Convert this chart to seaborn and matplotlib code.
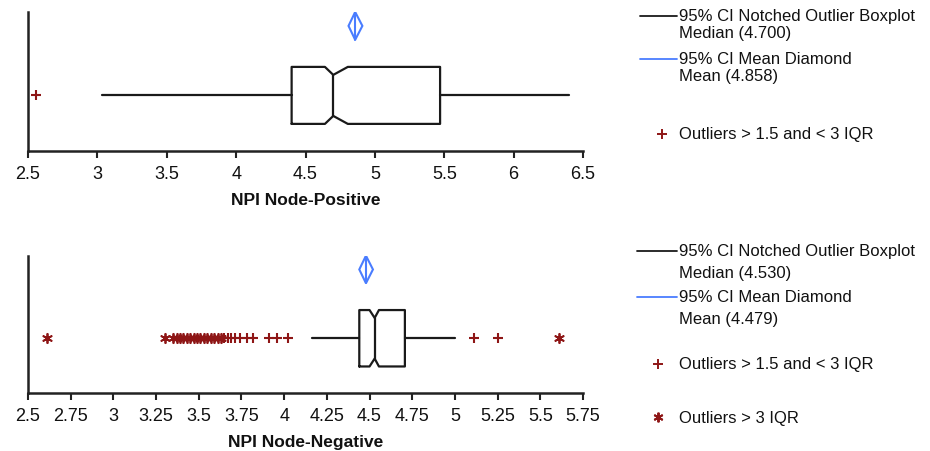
import matplotlib
matplotlib.use("Agg")
import matplotlib.pyplot as plt
import seaborn as sns
from matplotlib.lines import Line2D

# 两组 NPI 的箱线图统计量
panels = ['NPI Node-Positive', 'NPI Node-Negative']
whisker_lo = [3.03, 4.165]
q1 = [4.40, 4.44]
median = [4.700, 4.530]
notch_lo = [4.64, 4.50]
notch_hi = [4.805, 4.555]
q3 = [5.47, 4.707]
whisker_hi = [6.40, 5.00]

# 均值及其95%置信区间（菱形）
mean = [4.858, 4.479]
mean_ci_lo = [4.81, 4.44]
mean_ci_hi = [4.91, 4.52]

# 离群点：mild = 1.5~3 IQR, extreme = >3 IQR
mild_outliers = [
    [2.56],
    [3.65, 3.67, 3.69, 3.71, 3.74, 3.78, 3.82, 3.91, 3.96, 4.02, 5.11, 5.25],
]
extreme_outliers = [
    [],
    [2.61, 3.30, 3.35, 3.37, 3.39, 3.41, 3.43, 3.45, 3.47, 3.49, 3.51,
     3.53, 3.55, 3.57, 3.59, 3.61, 3.63, 5.61],
]

# 刻度
xticks = [
    [2.5, 3, 3.5, 4, 4.5, 5, 5.5, 6, 6.5],
    [2.5, 2.75, 3, 3.25, 3.5, 3.75, 4, 4.25, 4.5, 4.75, 5, 5.25, 5.5, 5.75],
]
xtick_labels = [
    ['2.5', '3', '3.5', '4', '4.5', '5', '5.5', '6', '6.5'],
    ['2.5', '2.75', '3', '3.25', '3.5', '3.75', '4', '4.25', '4.5', '4.75',
     '5', '5.25', '5.5', '5.75'],
]

sns.set_theme(style='ticks')
plt.rcParams['font.family'] = ['Liberation Sans', 'DejaVu Sans']

BOX_COLOR = '#1a1a1a'
BLUE = '#4a7dff'
RED = '#8e1616'
W, H = 930, 452

fig = plt.figure(figsize=(9.3, 4.52), dpi=100)
# 两个子图的位置（像素换算）
ax_top = fig.add_axes([28 / W, 1 - 152 / H, 555 / W, 139 / H])
ax_bot = fig.add_axes([28 / W, 1 - 394.3 / H, 555 / W, 137.6 / H])
axes = [ax_top, ax_bot]

box_pos = 0.40
box_w = 0.41
dia_y = 0.90
dia_h = 0.10

for i, ax in enumerate(axes):
    stats = [{
        'whislo': whisker_lo[i], 'q1': q1[i], 'med': median[i],
        'q3': q3[i], 'whishi': whisker_hi[i],
        'cilo': notch_lo[i], 'cihi': notch_hi[i], 'fliers': [],
    }]
    art = ax.bxp(stats, positions=[box_pos], widths=box_w, orientation='horizontal',
                 shownotches=True, showcaps=False, showfliers=False,
                 boxprops=dict(color=BOX_COLOR, lw=1.6),
                 whiskerprops=dict(color=BOX_COLOR, lw=1.6),
                 medianprops=dict(color=BOX_COLOR, lw=1.6))
    # 缺口浅一点，跟原图一样
    box = art['boxes'][0]
    yd = list(box.get_ydata())
    yd[3] = box_pos + box_w * 0.36
    yd[8] = box_pos - box_w * 0.36
    box.set_ydata(yd)
    art['medians'][0].set_ydata([box_pos - box_w * 0.36, box_pos + box_w * 0.36])

    # 均值菱形
    ax.fill([mean_ci_lo[i], mean[i], mean_ci_hi[i], mean[i]],
            [dia_y, dia_y + dia_h, dia_y, dia_y - dia_h],
            fill=False, edgecolor=BLUE, lw=1.5)
    ax.plot([mean[i], mean[i]], [dia_y - dia_h, dia_y + dia_h], color=BLUE, lw=1.5)

    # 离群点
    if mild_outliers[i]:
        sns.scatterplot(x=mild_outliers[i], y=[box_pos] * len(mild_outliers[i]),
                        marker='+', color=RED, s=45, linewidth=1.5, ax=ax)
    if extreme_outliers[i]:
        sns.scatterplot(x=extreme_outliers[i], y=[box_pos] * len(extreme_outliers[i]),
                        marker=(6, 2, 0), color=RED, s=45, linewidth=1.3, ax=ax)

    ax.set_xlim(xticks[i][0], xticks[i][-1])
    ax.set_ylim(0, 1)
    ax.set_xticks(xticks[i])
    ax.set_xticklabels(xtick_labels[i], fontsize=13, color='#111')
    ax.set_yticks([])
    ax.set_xlabel(panels[i], fontsize=12.5, fontweight='bold', color='#111', labelpad=7)
    sns.despine(ax=ax)
    for s in ['left', 'bottom']:
        ax.spines[s].set_linewidth(1.8)
        ax.spines[s].set_color('#222')
    ax.tick_params(axis='x', direction='out', length=5, width=1.5, color='#222', pad=5)


# 右侧图例（手动排版）
def fx(x):
    return x / W


def fy(y):
    return 1 - y / H


def legend_line(x0, x1, y, color):
    fig.add_artist(Line2D([fx(x0), fx(x1)], [fy(y), fy(y)], color=color, lw=1.3,
                          transform=fig.transFigure))


def legend_marker(x, y, marker):
    fig.add_artist(Line2D([fx(x)], [fy(y)], marker=marker, color=RED, ms=7, mew=1.4,
                          linestyle='none', transform=fig.transFigure))


def legend_text(x, y, s):
    fig.text(fx(x), fy(y), s, fontsize=12, color='#111', va='center', ha='left')


# 上图图例
legend_line(640, 677, 16.7, BOX_COLOR)
legend_text(679, 16.7, '95% CI Notched Outlier Boxplot')
legend_text(679, 33.3, f'Median ({median[0]:.3f})')
legend_line(640, 677, 60, BLUE)
legend_text(679, 60, '95% CI Mean Diamond')
legend_text(679, 76.7, f'Mean ({mean[0]:.3f})')
legend_marker(661.7, 135, '+')
legend_text(679, 135, 'Outliers > 1.5 and < 3 IQR')

# 下图图例
legend_line(636.7, 677, 251.7, BOX_COLOR)
legend_text(679, 251.7, '95% CI Notched Outlier Boxplot')
legend_text(679, 273.3, f'Median ({median[1]:.3f})')
legend_line(636.7, 677, 297.7, BLUE)
legend_text(679, 297.7, '95% CI Mean Diamond')
legend_text(679, 320, f'Mean ({mean[1]:.3f})')
legend_marker(658, 365, '+')
legend_text(679, 365, 'Outliers > 1.5 and < 3 IQR')
legend_marker(658, 418.3, (6, 2, 0))
legend_text(679, 418.3, 'Outliers > 3 IQR')

plt.savefig('out.png', dpi=100)
